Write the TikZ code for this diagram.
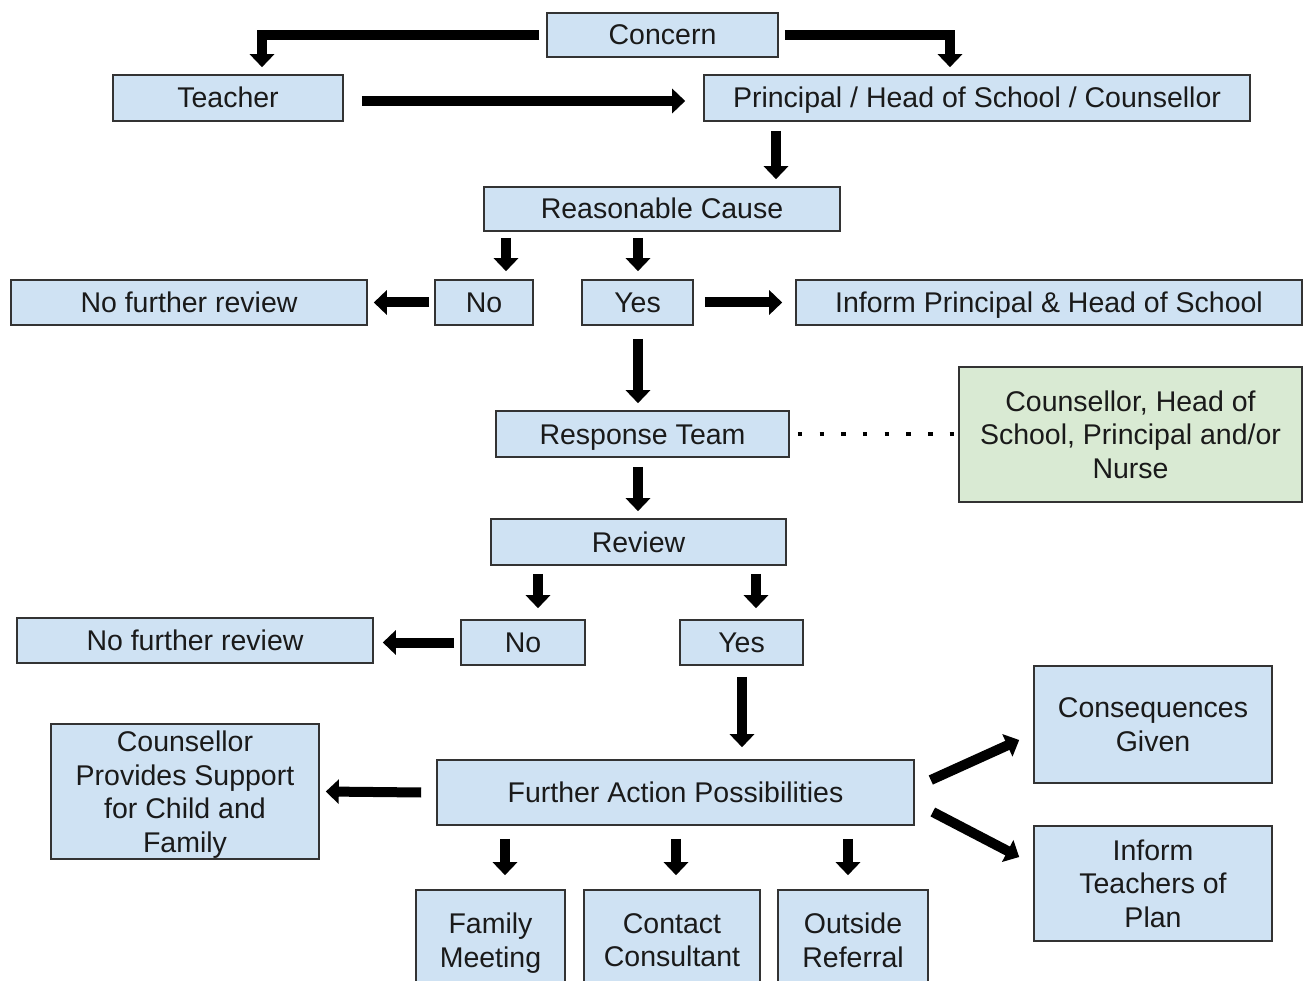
\documentclass[tikz,border=0pt]{standalone}
\usepackage{fontspec}
\setmainfont{Liberation Sans}
\usetikzlibrary{arrows.meta}
\definecolor{boxblue}{HTML}{CFE2F3}
\definecolor{boxgreen}{HTML}{D9EAD3}
\definecolor{boxline}{HTML}{333333}
\definecolor{txt}{HTML}{1A1A1A}
\tikzset{
  box/.style={draw=boxline, line width=1.6pt, fill=boxblue, text=txt, align=center,
    inner sep=0pt, text depth=0pt, font=\fontsize{28.5}{33.5}\selectfont},
  one/.style={box, text height=22pt, text depth=2pt},
  gbox/.style={box, fill=boxgreen},
  arr/.style={line width=10pt, -{Triangle[width=24pt,length=13pt]}},
  dots/.style={line width=4.5pt, dash pattern=on 4.5pt off 17.2pt}
}
\begin{document}
\begin{tikzpicture}[x=1pt,y=-1pt]
\clip (0,0) rectangle (1304,981);
\fill[white] (0,0) rectangle (1304,981);
% nodes
\node[one, minimum width=231, minimum height=44] (concern) at (662.5,35) {Concern};
\node[one, minimum width=230, minimum height=46] (teacher) at (228,98) {Teacher};
\node[one, minimum width=546, minimum height=46] (principal) at (977,98) {Principal / Head of School / Counsellor};
\node[one, minimum width=356, minimum height=44] (cause) at (662,209) {Reasonable Cause};
\node[one, minimum width=356, minimum height=45] (nfr1) at (189,302.5) {No further review};
\node[one, minimum width=98, minimum height=45] (no1) at (484,302.5) {No};
\node[one, minimum width=111, minimum height=45] (yes1) at (637.5,302.5) {Yes};
\node[one, minimum width=506, minimum height=45] (inform) at (1049,302.5) {Inform Principal \& Head of School};
\node[one, minimum width=293, minimum height=46] (team) at (642.5,434) {Response Team};
\node[gbox, minimum width=343, minimum height=135] (green) at (1130.5,434.5) {Counsellor, Head of\\School, Principal and/or\\Nurse};
\node[one, minimum width=295, minimum height=46] (review) at (638.5,542) {Review};
\node[one, minimum width=356, minimum height=45] (nfr2) at (195,640.5) {No further review};
\node[one, minimum width=124, minimum height=45] (no2) at (523,642.5) {No};
\node[one, minimum width=123, minimum height=45] (yes2) at (741.5,642.5) {Yes};
\node[box, minimum width=268, minimum height=135] (support) at (185,791.5) {Counsellor\\Provides Support\\for Child and\\Family};
\node[one, minimum width=477, minimum height=65] (further) at (675.5,792.5) {Further Action Possibilities};
\node[box, minimum width=238, minimum height=117] (conseq) at (1153,724.5) {Consequences\\Given};
\node[box, minimum width=238, minimum height=115] (informT) at (1153,883.5) {Inform\\Teachers of\\Plan};
\node[box, minimum width=149, minimum height=100] (family) at (490.5,940) {Family\\Meeting};
\node[box, minimum width=176, minimum height=100] (contact) at (672,940) {Contact\\Consultant};
\node[box, minimum width=150, minimum height=100] (outside) at (853,940) {Outside\\Referral};
% connectors
\draw[arr] ([xshift=-7]concern.west) -| ([xshift=34,yshift=7]teacher.north);
\draw[arr] ([xshift=6]concern.east) -| ([xshift=-27,yshift=7]principal.north);
\draw[arr] ([xshift=18,yshift=-3]teacher.east) -- ([xshift=-18,yshift=-3]principal.west);
\draw[arr] ([xshift=-201,yshift=-9]principal.south) -- ([xshift=114,yshift=7]cause.north);
\draw[arr] ([xshift=-156,yshift=-6]cause.south) -- ([xshift=22,yshift=8]no1.north);
\draw[arr] ([xshift=-24,yshift=-6]cause.south) -- ([xshift=0.5,yshift=8]yes1.north);
\draw[arr] ([xshift=-5]no1.west) -- ([xshift=6]nfr1.east);
\draw[arr] ([xshift=11]yes1.east) -- ([xshift=-13]inform.west);
\draw[arr] ([xshift=0.5,yshift=-13]yes1.south) -- ([xshift=-4.5,yshift=7]team.north);
\draw[dots] ([xshift=8]team.east) -- ([xshift=-4]green.west |- team.east);
\draw[arr] ([xshift=-4.5,yshift=-9]team.south) -- ([xshift=-0.5,yshift=7]review.north);
\draw[arr] ([xshift=-100.5,yshift=-8]review.south) -- ([xshift=15,yshift=11]no2.north);
\draw[arr] ([xshift=117.5,yshift=-8]review.south) -- ([xshift=14.5,yshift=11]yes2.north);
\draw[arr] ([xshift=-6]no2.west) -- ([xshift=9,yshift=-2]nfr2.east);
\draw[arr] ([xshift=0.5,yshift=-11]yes2.south) -- ([xshift=66.5,yshift=12]further.north);
\draw[arr] ([xshift=-15]further.west) -- ([xshift=6]support.east);
\draw[arr] ([xshift=16,yshift=12.5]further.east) -- ([xshift=-14,yshift=-15.5]conseq.west);
\draw[arr] ([xshift=18,yshift=-19.5]further.east) -- ([xshift=-14,yshift=26.5]informT.west);
\draw[arr] ([xshift=-170.5,yshift=-13]further.south) -- ([xshift=14.5,yshift=14]family.north);
\draw[arr] ([xshift=0.5,yshift=-13]further.south) -- ([xshift=4,yshift=14]contact.north);
\draw[arr] ([xshift=172.5,yshift=-13]further.south) -- ([xshift=-5,yshift=14]outside.north);
\end{tikzpicture}
\end{document}
